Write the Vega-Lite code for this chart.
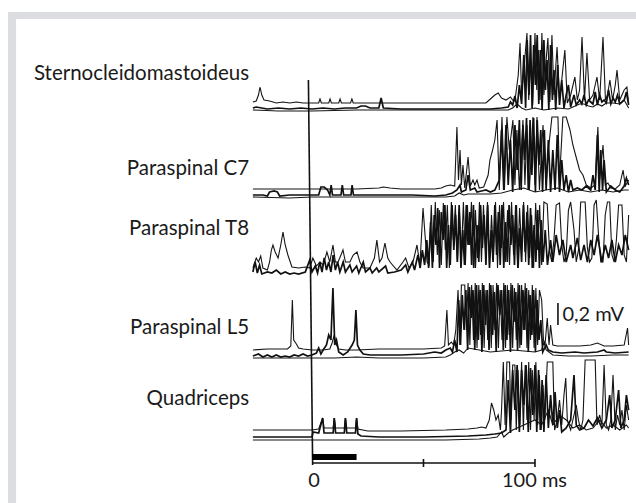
{
 "$schema": "https://vega.github.io/schema/vega-lite/v6.json",
 "width": 636, "height": 503,
 "autosize": {"type": "fit", "contains": "padding"},
 "padding": 0,
 "background": "#ffffff",
 "config": {"view": {"stroke": null}},
 "datasets": {
  "frame": [
   {"t": -136.3, "t2": -132.7, "d": 12, "d2": 503},
   {"t": -136.3, "t2": 145.3, "d": 12, "d2": 19}
  ],
  "rules": [
   {"t": -1.6, "t2": 0.3, "d": 80, "d2": 465},
   {"t": 0, "t2": 100, "d": 463, "d2": 463},
   {"t": 50, "t2": 50, "d": 459, "d2": 467},
   {"t": 100, "t2": 100, "d": 459, "d2": 467},
   {"t": 110.3, "t2": 110.3, "d": 303, "d2": 325}
  ],
  "bar": [{"t": 0, "t2": 20, "d": 454, "d2": 460}],
  "labels": [
   {"g": "R", "s": "Sternocleidomastoideus", "t": -28.2, "d": 80},
   {"g": "R", "s": "Paraspinal C7", "t": -28.2, "d": 175},
   {"g": "R", "s": "Paraspinal T8", "t": -28.2, "d": 235},
   {"g": "R", "s": "Paraspinal L5", "t": -28.2, "d": 334},
   {"g": "R", "s": "Quadriceps", "t": -28.2, "d": 405},
   {"g": "C", "s": "0", "t": 0.9, "d": 487},
   {"g": "L", "s": "100 ms", "t": 85.2, "d": 487},
   {"g": "L", "s": "0,2 mV", "t": 112.3, "d": 321}
  ],
  "traces": [
   {"k":"S1","t":-26.5,"d":102},{"k":"S1","t":-25,"d":101},{"k":"S1","t":-24,"d":95},{"k":"S1","t":-23.3,"d":87},{"k":"S1","t":-22.5,"d":95},{"k":"S1","t":-21.5,"d":100},{"k":"S1","t":-19,"d":101},{"k":"S1","t":-16,"d":103},{"k":"S1","t":-13,"d":102},{"k":"S1","t":-10,"d":103},{"k":"S1","t":-7,"d":102},{"k":"S1","t":-4,"d":103},{"k":"S1","t":0,"d":103},{"k":"S1","t":3,"d":103},{"k":"S1","t":3.6,"d":99},{"k":"S1","t":4.2,"d":103},{"k":"S1","t":7.5,"d":103},{"k":"S1","t":8.1,"d":99},{"k":"S1","t":8.7,"d":103},{"k":"S1","t":12,"d":103},{"k":"S1","t":12.6,"d":99},{"k":"S1","t":13.2,"d":103},{"k":"S1","t":17.3,"d":103},{"k":"S1","t":17.9,"d":99},{"k":"S1","t":18.5,"d":103},{"k":"S1","t":30,"d":103},{"k":"S1","t":50,"d":103},{"k":"S1","t":70,"d":103},{"k":"S1","t":78,"d":103},{"k":"S1","t":80,"d":99},{"k":"S1","t":82,"d":95},{"k":"S1","t":83.5,"d":93},{"k":"S1","t":85,"d":98},{"k":"S1","t":87,"d":100},{"k":"S1","t":89,"d":97},{"k":"S1","t":90,"d":100},{"k":"S1","t":91,"d":101},{"k":"S1","t":92.5,"d":75},{"k":"S1","t":93.3,"d":43},{"k":"S1","t":94,"d":95},{"k":"S1","t":95,"d":70},{"k":"S1","t":96.4,"d":33},{"k":"S1","t":97.2,"d":100},{"k":"S1","t":98,"d":60},{"k":"S1","t":99,"d":105},{"k":"S1","t":100,"d":33},{"k":"S1","t":100.8,"d":90},{"k":"S1","t":101.5,"d":50},{"k":"S1","t":102.3,"d":100},{"k":"S1","t":103.1,"d":33},{"k":"S1","t":104,"d":95},{"k":"S1","t":105,"d":60},{"k":"S1","t":105.8,"d":38},{"k":"S1","t":106.7,"d":102},{"k":"S1","t":107.6,"d":35},{"k":"S1","t":108.5,"d":95},{"k":"S1","t":109.9,"d":47},{"k":"S1","t":111,"d":100},{"k":"S1","t":112,"d":80},{"k":"S1","t":113.4,"d":50},{"k":"S1","t":114.5,"d":103},{"k":"S1","t":116,"d":95},{"k":"S1","t":117.9,"d":77},{"k":"S1","t":119,"d":100},{"k":"S1","t":120,"d":90},{"k":"S1","t":121.1,"d":37},{"k":"S1","t":122.2,"d":100},{"k":"S1","t":123.3,"d":53},{"k":"S1","t":124.5,"d":100},{"k":"S1","t":126,"d":95},{"k":"S1","t":127.8,"d":77},{"k":"S1","t":129,"d":100},{"k":"S1","t":130.5,"d":37},{"k":"S1","t":131.6,"d":100},{"k":"S1","t":132.5,"d":95},{"k":"S1","t":133.6,"d":80},{"k":"S1","t":134.8,"d":100},{"k":"S1","t":136,"d":85},{"k":"S1","t":136.8,"d":70},{"k":"S1","t":138,"d":100},{"k":"S1","t":139,"d":95},{"k":"S1","t":140,"d":90},{"k":"S1","t":141.2,"d":87},{"k":"S1","t":142,"d":103},

   {"k":"S2","t":-26.5,"d":108},{"k":"S2","t":-25,"d":107},{"k":"S2","t":-20,"d":109},{"k":"S2","t":-15,"d":108},{"k":"S2","t":-10,"d":109},{"k":"S2","t":-5,"d":108},{"k":"S2","t":0,"d":109},{"k":"S2","t":5,"d":108},{"k":"S2","t":10,"d":109},{"k":"S2","t":15,"d":108},{"k":"S2","t":20,"d":108},{"k":"S2","t":22,"d":106},{"k":"S2","t":24,"d":106},{"k":"S2","t":26,"d":108},{"k":"S2","t":30,"d":108},{"k":"S2","t":31,"d":98},{"k":"S2","t":32,"d":108},{"k":"S2","t":40,"d":109},{"k":"S2","t":60,"d":109},{"k":"S2","t":80,"d":109},{"k":"S2","t":85,"d":108},{"k":"S2","t":88,"d":107},{"k":"S2","t":89,"d":102},{"k":"S2","t":90,"d":105},{"k":"S2","t":91,"d":96},{"k":"S2","t":92,"d":108},{"k":"S2","t":93,"d":85},{"k":"S2","t":94,"d":104},{"k":"S2","t":95,"d":55},{"k":"S2","t":95.8,"d":108},{"k":"S2","t":96.5,"d":40},{"k":"S2","t":97.3,"d":95},{"k":"S2","t":98,"d":35},{"k":"S2","t":98.7,"d":108},{"k":"S2","t":99.4,"d":45},{"k":"S2","t":100.2,"d":85},{"k":"S2","t":101,"d":35},{"k":"S2","t":101.7,"d":104},{"k":"S2","t":102.4,"d":50},{"k":"S2","t":103.2,"d":110},{"k":"S2","t":104,"d":40},{"k":"S2","t":104.7,"d":90},{"k":"S2","t":105.4,"d":60},{"k":"S2","t":106.2,"d":110},{"k":"S2","t":107,"d":45},{"k":"S2","t":107.8,"d":100},{"k":"S2","t":108.5,"d":70},{"k":"S2","t":109.3,"d":110},{"k":"S2","t":110.2,"d":65},{"k":"S2","t":111,"d":105},{"k":"S2","t":112,"d":80},{"k":"S2","t":113,"d":108},{"k":"S2","t":114,"d":95},{"k":"S2","t":115,"d":85},{"k":"S2","t":116,"d":107},{"k":"S2","t":117.5,"d":95},{"k":"S2","t":118.5,"d":105},{"k":"S2","t":120,"d":100},{"k":"S2","t":121,"d":104},{"k":"S2","t":122,"d":95},{"k":"S2","t":123,"d":105},{"k":"S2","t":124,"d":100},{"k":"S2","t":126,"d":104},{"k":"S2","t":127,"d":92},{"k":"S2","t":128,"d":105},{"k":"S2","t":129,"d":95},{"k":"S2","t":130,"d":102},{"k":"S2","t":131,"d":100},{"k":"S2","t":132,"d":103},{"k":"S2","t":133,"d":90},{"k":"S2","t":134,"d":104},{"k":"S2","t":135,"d":98},{"k":"S2","t":136,"d":102},{"k":"S2","t":137,"d":95},{"k":"S2","t":138,"d":104},{"k":"S2","t":140,"d":100},{"k":"S2","t":141,"d":92},{"k":"S2","t":142,"d":105},

   {"k":"S3","t":-26.5,"d":110},{"k":"S3","t":-15,"d":111},{"k":"S3","t":0,"d":111},{"k":"S3","t":20,"d":110},{"k":"S3","t":40,"d":110},{"k":"S3","t":60,"d":110},{"k":"S3","t":80,"d":110},{"k":"S3","t":88,"d":110},{"k":"S3","t":90,"d":108},{"k":"S3","t":92,"d":104},{"k":"S3","t":94,"d":108},{"k":"S3","t":96,"d":110},{"k":"S3","t":100,"d":108},{"k":"S3","t":104,"d":110},{"k":"S3","t":110,"d":108},{"k":"S3","t":115,"d":109},{"k":"S3","t":118,"d":106},{"k":"S3","t":120,"d":104},{"k":"S3","t":122,"d":104},{"k":"S3","t":124,"d":106},{"k":"S3","t":126,"d":107},{"k":"S3","t":128,"d":104},{"k":"S3","t":130,"d":106},{"k":"S3","t":132,"d":103},{"k":"S3","t":135,"d":103},{"k":"S3","t":138,"d":104},{"k":"S3","t":140,"d":100},{"k":"S3","t":142,"d":108},

   {"k":"C1","t":-26.5,"d":189},{"k":"C1","t":-20,"d":189},{"k":"C1","t":-10,"d":189},{"k":"C1","t":0,"d":189},{"k":"C1","t":10,"d":189},{"k":"C1","t":20,"d":189},{"k":"C1","t":30,"d":188},{"k":"C1","t":32,"d":187},{"k":"C1","t":35,"d":188},{"k":"C1","t":40,"d":189},{"k":"C1","t":50,"d":189},{"k":"C1","t":55,"d":189},{"k":"C1","t":58,"d":188},{"k":"C1","t":60,"d":186},{"k":"C1","t":62,"d":185},{"k":"C1","t":64,"d":186},{"k":"C1","t":65,"d":127},{"k":"C1","t":65.7,"d":180},{"k":"C1","t":66.4,"d":150},{"k":"C1","t":67,"d":185},{"k":"C1","t":67.7,"d":165},{"k":"C1","t":68.5,"d":188},{"k":"C1","t":70,"d":157},{"k":"C1","t":71,"d":186},{"k":"C1","t":72.2,"d":180},{"k":"C1","t":73,"d":185},{"k":"C1","t":74,"d":180},{"k":"C1","t":75,"d":188},{"k":"C1","t":77,"d":187},{"k":"C1","t":79,"d":175},{"k":"C1","t":79.8,"d":160},{"k":"C1","t":81,"d":150},{"k":"C1","t":82,"d":140},{"k":"C1","t":83,"d":120},{"k":"C1","t":84,"d":190},{"k":"C1","t":85.2,"d":117},{"k":"C1","t":86.3,"d":190},{"k":"C1","t":87.4,"d":117},{"k":"C1","t":88.5,"d":150},{"k":"C1","t":90.1,"d":120},{"k":"C1","t":91,"d":185},{"k":"C1","t":91.9,"d":130},{"k":"C1","t":93,"d":190},{"k":"C1","t":94.6,"d":120},{"k":"C1","t":95.5,"d":185},{"k":"C1","t":96.4,"d":125},{"k":"C1","t":97.5,"d":190},{"k":"C1","t":99.1,"d":117},{"k":"C1","t":100,"d":185},{"k":"C1","t":100.9,"d":117},{"k":"C1","t":102,"d":190},{"k":"C1","t":103.6,"d":125},{"k":"C1","t":105,"d":185},{"k":"C1","t":106,"d":150},{"k":"C1","t":107.6,"d":117},{"k":"C1","t":110.3,"d":117},{"k":"C1","t":111,"d":180},{"k":"C1","t":112.5,"d":117},{"k":"C1","t":114,"d":117},{"k":"C1","t":115.7,"d":130},{"k":"C1","t":117,"d":145},{"k":"C1","t":118.8,"d":160},{"k":"C1","t":120,"d":170},{"k":"C1","t":121.5,"d":175},{"k":"C1","t":123,"d":185},{"k":"C1","t":125,"d":188},{"k":"C1","t":127,"d":185},{"k":"C1","t":128.2,"d":127},{"k":"C1","t":129,"d":180},{"k":"C1","t":130.5,"d":145},{"k":"C1","t":131.5,"d":185},{"k":"C1","t":132.7,"d":183},{"k":"C1","t":134,"d":188},{"k":"C1","t":136,"d":189},{"k":"C1","t":138,"d":185},{"k":"C1","t":139.5,"d":170},{"k":"C1","t":140.5,"d":186},{"k":"C1","t":142,"d":180},

   {"k":"C2","t":-26.5,"d":195},{"k":"C2","t":-22,"d":195},{"k":"C2","t":-20,"d":196},{"k":"C2","t":-19,"d":192},{"k":"C2","t":-17,"d":191},{"k":"C2","t":-15.5,"d":192},{"k":"C2","t":-14.5,"d":196},{"k":"C2","t":-10,"d":195},{"k":"C2","t":0,"d":195},{"k":"C2","t":3,"d":195},{"k":"C2","t":4,"d":187},{"k":"C2","t":5.5,"d":187},{"k":"C2","t":7,"d":190},{"k":"C2","t":8,"d":195},{"k":"C2","t":8.6,"d":185},{"k":"C2","t":9.2,"d":195},{"k":"C2","t":13,"d":195},{"k":"C2","t":13.6,"d":185},{"k":"C2","t":14.2,"d":195},{"k":"C2","t":17.5,"d":195},{"k":"C2","t":18,"d":185},{"k":"C2","t":18.6,"d":195},{"k":"C2","t":25,"d":195},{"k":"C2","t":35,"d":195},{"k":"C2","t":45,"d":195},{"k":"C2","t":55,"d":196},{"k":"C2","t":60,"d":195},{"k":"C2","t":63,"d":193},{"k":"C2","t":65,"d":190},{"k":"C2","t":66.4,"d":185},{"k":"C2","t":67,"d":192},{"k":"C2","t":69,"d":190},{"k":"C2","t":70,"d":175},{"k":"C2","t":71,"d":190},{"k":"C2","t":73,"d":188},{"k":"C2","t":74,"d":192},{"k":"C2","t":76,"d":191},{"k":"C2","t":78,"d":190},{"k":"C2","t":80,"d":192},{"k":"C2","t":82,"d":190},{"k":"C2","t":84,"d":180},{"k":"C2","t":85,"d":130},{"k":"C2","t":86,"d":190},{"k":"C2","t":87,"d":125},{"k":"C2","t":88,"d":185},{"k":"C2","t":89,"d":140},{"k":"C2","t":90,"d":192},{"k":"C2","t":91,"d":125},{"k":"C2","t":92,"d":170},{"k":"C2","t":93,"d":120},{"k":"C2","t":93.8,"d":190},{"k":"C2","t":94.6,"d":125},{"k":"C2","t":95.4,"d":160},{"k":"C2","t":96.2,"d":118},{"k":"C2","t":97,"d":190},{"k":"C2","t":97.8,"d":120},{"k":"C2","t":98.6,"d":175},{"k":"C2","t":99.4,"d":118},{"k":"C2","t":100.2,"d":192},{"k":"C2","t":101,"d":120},{"k":"C2","t":101.8,"d":165},{"k":"C2","t":102.6,"d":130},{"k":"C2","t":103.4,"d":192},{"k":"C2","t":104.2,"d":130},{"k":"C2","t":105,"d":190},{"k":"C2","t":106,"d":140},{"k":"C2","t":107,"d":192},{"k":"C2","t":108,"d":150},{"k":"C2","t":109,"d":190},{"k":"C2","t":110,"d":135},{"k":"C2","t":111,"d":192},{"k":"C2","t":112,"d":160},{"k":"C2","t":113,"d":190},{"k":"C2","t":114,"d":175},{"k":"C2","t":115,"d":192},{"k":"C2","t":116,"d":180},{"k":"C2","t":117,"d":190},{"k":"C2","t":119,"d":188},{"k":"C2","t":121,"d":190},{"k":"C2","t":123,"d":186},{"k":"C2","t":125,"d":190},{"k":"C2","t":126,"d":175},{"k":"C2","t":127,"d":190},{"k":"C2","t":128,"d":135},{"k":"C2","t":128.8,"d":192},{"k":"C2","t":129.5,"d":150},{"k":"C2","t":130.3,"d":190},{"k":"C2","t":131,"d":160},{"k":"C2","t":132,"d":192},{"k":"C2","t":134,"d":186},{"k":"C2","t":136,"d":190},{"k":"C2","t":138,"d":192},{"k":"C2","t":140,"d":186},{"k":"C2","t":141,"d":178},{"k":"C2","t":142,"d":185},

   {"k":"C3","t":-26.5,"d":197},{"k":"C3","t":-10,"d":198},{"k":"C3","t":0,"d":197},{"k":"C3","t":20,"d":197},{"k":"C3","t":40,"d":197},{"k":"C3","t":60,"d":197},{"k":"C3","t":64,"d":196},{"k":"C3","t":66,"d":193},{"k":"C3","t":68,"d":195},{"k":"C3","t":70,"d":194},{"k":"C3","t":75,"d":194},{"k":"C3","t":80,"d":194},{"k":"C3","t":85,"d":193},{"k":"C3","t":90,"d":190},{"k":"C3","t":95,"d":188},{"k":"C3","t":100,"d":192},{"k":"C3","t":105,"d":190},{"k":"C3","t":110,"d":188},{"k":"C3","t":115,"d":192},{"k":"C3","t":120,"d":190},{"k":"C3","t":125,"d":192},{"k":"C3","t":130,"d":190},{"k":"C3","t":135,"d":192},{"k":"C3","t":140,"d":190},{"k":"C3","t":142,"d":190},

   {"k":"T1","t":-26.5,"d":268},{"k":"T1","t":-25,"d":258},{"k":"T1","t":-24,"d":262},{"k":"T1","t":-23,"d":256},{"k":"T1","t":-22,"d":268},{"k":"T1","t":-20,"d":270},{"k":"T1","t":-19,"d":262},{"k":"T1","t":-18.2,"d":250},{"k":"T1","t":-17.5,"d":245},{"k":"T1","t":-16.5,"d":252},{"k":"T1","t":-15.2,"d":258},{"k":"T1","t":-14,"d":245},{"k":"T1","t":-13,"d":232},{"k":"T1","t":-12,"d":245},{"k":"T1","t":-10.8,"d":255},{"k":"T1","t":-9,"d":267},{"k":"T1","t":-6,"d":268},{"k":"T1","t":-3,"d":267},{"k":"T1","t":-1,"d":268},{"k":"T1","t":0.4,"d":258},{"k":"T1","t":2,"d":266},{"k":"T1","t":3.6,"d":262},{"k":"T1","t":5,"d":265},{"k":"T1","t":6.7,"d":252},{"k":"T1","t":8,"d":262},{"k":"T1","t":9.4,"d":245},{"k":"T1","t":10.5,"d":262},{"k":"T1","t":11.7,"d":262},{"k":"T1","t":13,"d":255},{"k":"T1","t":13.9,"d":250},{"k":"T1","t":15,"d":262},{"k":"T1","t":17,"d":262},{"k":"T1","t":18.5,"d":255},{"k":"T1","t":20.2,"d":252},{"k":"T1","t":21.5,"d":262},{"k":"T1","t":22.9,"d":268},{"k":"T1","t":24.5,"d":268},{"k":"T1","t":26,"d":268},{"k":"T1","t":28,"d":258},{"k":"T1","t":29.1,"d":240},{"k":"T1","t":30.3,"d":262},{"k":"T1","t":31.4,"d":258},{"k":"T1","t":32.7,"d":243},{"k":"T1","t":34,"d":258},{"k":"T1","t":35,"d":262},{"k":"T1","t":38.1,"d":270},{"k":"T1","t":40.8,"d":262},{"k":"T1","t":42,"d":258},{"k":"T1","t":43.5,"d":268},{"k":"T1","t":45.3,"d":262},{"k":"T1","t":47.1,"d":245},{"k":"T1","t":48.4,"d":265},{"k":"T1","t":49.8,"d":208},{"k":"T1","t":51.6,"d":262},{"k":"T1","t":52.5,"d":265},{"k":"T1","t":53.5,"d":205},{"k":"T1","t":54.4,"d":262},{"k":"T1","t":55.3,"d":202},{"k":"T1","t":56.2,"d":255},{"k":"T1","t":57.1,"d":210},{"k":"T1","t":58,"d":265},{"k":"T1","t":58.9,"d":203},{"k":"T1","t":59.8,"d":250},{"k":"T1","t":60.7,"d":205},{"k":"T1","t":61.6,"d":268},{"k":"T1","t":62.5,"d":202},{"k":"T1","t":63.4,"d":240},{"k":"T1","t":64.3,"d":205},{"k":"T1","t":65.2,"d":262},{"k":"T1","t":66.1,"d":210},{"k":"T1","t":67,"d":255},{"k":"T1","t":67.9,"d":202},{"k":"T1","t":68.8,"d":265},{"k":"T1","t":69.7,"d":205},{"k":"T1","t":70.6,"d":245},{"k":"T1","t":71.5,"d":202},{"k":"T1","t":72.4,"d":268},{"k":"T1","t":73.3,"d":210},{"k":"T1","t":74.2,"d":258},{"k":"T1","t":75.1,"d":202},{"k":"T1","t":76,"d":262},{"k":"T1","t":76.9,"d":205},{"k":"T1","t":77.8,"d":250},{"k":"T1","t":78.7,"d":202},{"k":"T1","t":79.6,"d":265},{"k":"T1","t":80.5,"d":215},{"k":"T1","t":81.4,"d":255},{"k":"T1","t":82.3,"d":202},{"k":"T1","t":83.2,"d":268},{"k":"T1","t":84.1,"d":205},{"k":"T1","t":85,"d":248},{"k":"T1","t":85.9,"d":202},{"k":"T1","t":86.8,"d":262},{"k":"T1","t":87.7,"d":210},{"k":"T1","t":88.6,"d":265},{"k":"T1","t":89.5,"d":202},{"k":"T1","t":90.4,"d":255},{"k":"T1","t":91.3,"d":205},{"k":"T1","t":92.2,"d":268},{"k":"T1","t":93.1,"d":208},{"k":"T1","t":94,"d":250},{"k":"T1","t":94.9,"d":202},{"k":"T1","t":95.8,"d":262},{"k":"T1","t":96.7,"d":205},{"k":"T1","t":97.6,"d":258},{"k":"T1","t":98.5,"d":215},{"k":"T1","t":99.4,"d":268},{"k":"T1","t":100.3,"d":203},{"k":"T1","t":101.2,"d":250},{"k":"T1","t":102.1,"d":205},{"k":"T1","t":103,"d":265},{"k":"T1","t":104,"d":202},{"k":"T1","t":105.5,"d":204},{"k":"T1","t":106.5,"d":250},{"k":"T1","t":107.5,"d":262},{"k":"T1","t":108.5,"d":240},{"k":"T1","t":109.5,"d":205},{"k":"T1","t":111,"d":203},{"k":"T1","t":112,"d":245},{"k":"T1","t":113,"d":262},{"k":"T1","t":114,"d":255},{"k":"T1","t":115,"d":210},{"k":"T1","t":116,"d":202},{"k":"T1","t":117.5,"d":230},{"k":"T1","t":118.5,"d":262},{"k":"T1","t":119.5,"d":250},{"k":"T1","t":120.5,"d":202},{"k":"T1","t":122.5,"d":202},{"k":"T1","t":123.5,"d":248},{"k":"T1","t":124.5,"d":262},{"k":"T1","t":125.5,"d":258},{"k":"T1","t":126.5,"d":205},{"k":"T1","t":127.5,"d":200},{"k":"T1","t":128.5,"d":235},{"k":"T1","t":129.5,"d":262},{"k":"T1","t":130.5,"d":262},{"k":"T1","t":131.5,"d":215},{"k":"T1","t":132.5,"d":202},{"k":"T1","t":133.5,"d":202},{"k":"T1","t":134.5,"d":255},{"k":"T1","t":135.5,"d":262},{"k":"T1","t":136.5,"d":240},{"k":"T1","t":137.5,"d":205},{"k":"T1","t":139,"d":205},{"k":"T1","t":140,"d":255},{"k":"T1","t":141,"d":262},{"k":"T1","t":142,"d":215},

   {"k":"T2","t":-26.5,"d":272},{"k":"T2","t":-25.5,"d":262},{"k":"T2","t":-24.5,"d":273},{"k":"T2","t":-23.5,"d":265},{"k":"T2","t":-22.5,"d":274},{"k":"T2","t":-20,"d":272},{"k":"T2","t":-18,"d":273},{"k":"T2","t":-16,"d":270},{"k":"T2","t":-14,"d":274},{"k":"T2","t":-12,"d":272},{"k":"T2","t":-10,"d":274},{"k":"T2","t":-8,"d":273},{"k":"T2","t":-6,"d":274},{"k":"T2","t":-3,"d":272},{"k":"T2","t":-1,"d":260},{"k":"T2","t":0,"d":272},{"k":"T2","t":1.5,"d":266},{"k":"T2","t":2.5,"d":273},{"k":"T2","t":3.5,"d":262},{"k":"T2","t":4.5,"d":272},{"k":"T2","t":5.5,"d":258},{"k":"T2","t":6.5,"d":270},{"k":"T2","t":7.5,"d":262},{"k":"T2","t":8.5,"d":272},{"k":"T2","t":9.5,"d":255},{"k":"T2","t":10.5,"d":270},{"k":"T2","t":11.5,"d":262},{"k":"T2","t":12.5,"d":272},{"k":"T2","t":14,"d":262},{"k":"T2","t":15,"d":272},{"k":"T2","t":17,"d":265},{"k":"T2","t":18,"d":272},{"k":"T2","t":20,"d":266},{"k":"T2","t":21,"d":273},{"k":"T2","t":23,"d":262},{"k":"T2","t":24,"d":272},{"k":"T2","t":26,"d":268},{"k":"T2","t":27,"d":273},{"k":"T2","t":29,"d":268},{"k":"T2","t":30,"d":272},{"k":"T2","t":33,"d":266},{"k":"T2","t":34,"d":273},{"k":"T2","t":37,"d":272},{"k":"T2","t":40,"d":270},{"k":"T2","t":42,"d":265},{"k":"T2","t":43,"d":272},{"k":"T2","t":45,"d":262},{"k":"T2","t":46,"d":270},{"k":"T2","t":47.5,"d":255},{"k":"T2","t":48.5,"d":268},{"k":"T2","t":49.5,"d":250},{"k":"T2","t":50.5,"d":265},{"k":"T2","t":51.5,"d":240},{"k":"T2","t":52.3,"d":268},{"k":"T2","t":53.2,"d":222},{"k":"T2","t":54,"d":268},{"k":"T2","t":54.8,"d":215},{"k":"T2","t":55.6,"d":245},{"k":"T2","t":56.4,"d":208},{"k":"T2","t":57.2,"d":268},{"k":"T2","t":58,"d":212},{"k":"T2","t":58.8,"d":240},{"k":"T2","t":59.6,"d":205},{"k":"T2","t":60.4,"d":268},{"k":"T2","t":61.2,"d":225},{"k":"T2","t":62,"d":265},{"k":"T2","t":62.8,"d":205},{"k":"T2","t":63.6,"d":250},{"k":"T2","t":64.4,"d":215},{"k":"T2","t":65.2,"d":262},{"k":"T2","t":66,"d":205},{"k":"T2","t":66.8,"d":268},{"k":"T2","t":67.6,"d":230},{"k":"T2","t":68.4,"d":265},{"k":"T2","t":69.2,"d":205},{"k":"T2","t":70,"d":245},{"k":"T2","t":70.8,"d":212},{"k":"T2","t":71.6,"d":265},{"k":"T2","t":72.4,"d":205},{"k":"T2","t":73.2,"d":268},{"k":"T2","t":74,"d":225},{"k":"T2","t":74.8,"d":262},{"k":"T2","t":75.6,"d":205},{"k":"T2","t":76.4,"d":248},{"k":"T2","t":77.2,"d":215},{"k":"T2","t":78,"d":265},{"k":"T2","t":78.8,"d":205},{"k":"T2","t":79.6,"d":268},{"k":"T2","t":80.4,"d":230},{"k":"T2","t":81.2,"d":262},{"k":"T2","t":82,"d":205},{"k":"T2","t":82.8,"d":255},{"k":"T2","t":83.6,"d":212},{"k":"T2","t":84.4,"d":265},{"k":"T2","t":85.2,"d":205},{"k":"T2","t":86,"d":268},{"k":"T2","t":86.8,"d":222},{"k":"T2","t":87.6,"d":262},{"k":"T2","t":88.4,"d":205},{"k":"T2","t":89.2,"d":245},{"k":"T2","t":90,"d":215},{"k":"T2","t":90.8,"d":265},{"k":"T2","t":91.6,"d":205},{"k":"T2","t":92.4,"d":268},{"k":"T2","t":93.2,"d":228},{"k":"T2","t":94,"d":262},{"k":"T2","t":94.8,"d":205},{"k":"T2","t":95.6,"d":252},{"k":"T2","t":96.4,"d":212},{"k":"T2","t":97.2,"d":265},{"k":"T2","t":98,"d":208},{"k":"T2","t":98.8,"d":268},{"k":"T2","t":99.6,"d":225},{"k":"T2","t":100.4,"d":262},{"k":"T2","t":101.2,"d":210},{"k":"T2","t":102,"d":268},{"k":"T2","t":102.8,"d":220},{"k":"T2","t":103.6,"d":262},{"k":"T2","t":104.6,"d":230},{"k":"T2","t":105.6,"d":265},{"k":"T2","t":107,"d":240},{"k":"T2","t":108,"d":262},{"k":"T2","t":109.5,"d":235},{"k":"T2","t":111,"d":255},{"k":"T2","t":112.5,"d":240},{"k":"T2","t":114,"d":262},{"k":"T2","t":116,"d":245},{"k":"T2","t":117,"d":258},{"k":"T2","t":119,"d":238},{"k":"T2","t":120.5,"d":260},{"k":"T2","t":122,"d":245},{"k":"T2","t":123.5,"d":262},{"k":"T2","t":125,"d":240},{"k":"T2","t":126.5,"d":255},{"k":"T2","t":128,"d":235},{"k":"T2","t":130,"d":262},{"k":"T2","t":131.5,"d":245},{"k":"T2","t":133,"d":258},{"k":"T2","t":134.5,"d":240},{"k":"T2","t":136,"d":262},{"k":"T2","t":137.5,"d":245},{"k":"T2","t":139,"d":255},{"k":"T2","t":140.5,"d":235},{"k":"T2","t":142,"d":250},

   {"k":"L1","t":-26.5,"d":350},{"k":"L1","t":-20,"d":349},{"k":"L1","t":-15,"d":349},{"k":"L1","t":-11,"d":349},{"k":"L1","t":-9.5,"d":346},{"k":"L1","t":-8.8,"d":300},{"k":"L1","t":-8.2,"d":340},{"k":"L1","t":-7,"d":344},{"k":"L1","t":-6,"d":348},{"k":"L1","t":-4,"d":349},{"k":"L1","t":0,"d":350},{"k":"L1","t":5,"d":350},{"k":"L1","t":8,"d":349},{"k":"L1","t":9,"d":343},{"k":"L1","t":10,"d":335},{"k":"L1","t":11,"d":345},{"k":"L1","t":12,"d":349},{"k":"L1","t":15,"d":350},{"k":"L1","t":20,"d":350},{"k":"L1","t":30,"d":349},{"k":"L1","t":40,"d":349},{"k":"L1","t":50,"d":349},{"k":"L1","t":58,"d":348},{"k":"L1","t":59.5,"d":346},{"k":"L1","t":60.5,"d":310},{"k":"L1","t":61.2,"d":345},{"k":"L1","t":62.5,"d":342},{"k":"L1","t":63.5,"d":345},{"k":"L1","t":64.5,"d":330},{"k":"L1","t":65.5,"d":290},{"k":"L1","t":66.3,"d":345},{"k":"L1","t":67,"d":285},{"k":"L1","t":68.5,"d":285},{"k":"L1","t":69.2,"d":330},{"k":"L1","t":70,"d":283},{"k":"L1","t":70.8,"d":345},{"k":"L1","t":71.6,"d":285},{"k":"L1","t":72.4,"d":340},{"k":"L1","t":73.2,"d":283},{"k":"L1","t":74,"d":348},{"k":"L1","t":74.8,"d":285},{"k":"L1","t":75.6,"d":335},{"k":"L1","t":76.4,"d":283},{"k":"L1","t":77.2,"d":348},{"k":"L1","t":78,"d":290},{"k":"L1","t":78.8,"d":340},{"k":"L1","t":79.6,"d":283},{"k":"L1","t":80.4,"d":348},{"k":"L1","t":81.2,"d":285},{"k":"L1","t":82,"d":330},{"k":"L1","t":82.8,"d":283},{"k":"L1","t":83.6,"d":348},{"k":"L1","t":84.4,"d":290},{"k":"L1","t":85.2,"d":340},{"k":"L1","t":86,"d":283},{"k":"L1","t":86.8,"d":348},{"k":"L1","t":87.6,"d":285},{"k":"L1","t":88.4,"d":335},{"k":"L1","t":89.2,"d":283},{"k":"L1","t":90,"d":348},{"k":"L1","t":90.8,"d":288},{"k":"L1","t":91.6,"d":340},{"k":"L1","t":92.4,"d":283},{"k":"L1","t":93.2,"d":348},{"k":"L1","t":94,"d":285},{"k":"L1","t":94.8,"d":330},{"k":"L1","t":95.6,"d":283},{"k":"L1","t":96.4,"d":348},{"k":"L1","t":97.2,"d":290},{"k":"L1","t":98,"d":340},{"k":"L1","t":98.8,"d":285},{"k":"L1","t":99.6,"d":348},{"k":"L1","t":100.4,"d":288},{"k":"L1","t":101.2,"d":345},{"k":"L1","t":102,"d":290},{"k":"L1","t":103,"d":300},{"k":"L1","t":103.8,"d":340},{"k":"L1","t":104.5,"d":345},{"k":"L1","t":105.5,"d":318},{"k":"L1","t":106.3,"d":345},{"k":"L1","t":107,"d":325},{"k":"L1","t":108,"d":345},{"k":"L1","t":110,"d":346},{"k":"L1","t":115,"d":346},{"k":"L1","t":120,"d":346},{"k":"L1","t":125,"d":345},{"k":"L1","t":128,"d":343},{"k":"L1","t":131,"d":346},{"k":"L1","t":135,"d":346},{"k":"L1","t":140,"d":345},{"k":"L1","t":141.5,"d":328},{"k":"L1","t":142,"d":345},

   {"k":"L2","t":-26.5,"d":356},{"k":"L2","t":-24,"d":354},{"k":"L2","t":-22,"d":357},{"k":"L2","t":-20,"d":355},{"k":"L2","t":-18,"d":357},{"k":"L2","t":-16,"d":355},{"k":"L2","t":-14,"d":357},{"k":"L2","t":-12,"d":356},{"k":"L2","t":-10,"d":357},{"k":"L2","t":-8,"d":355},{"k":"L2","t":-6,"d":356},{"k":"L2","t":-4,"d":354},{"k":"L2","t":-2,"d":356},{"k":"L2","t":0,"d":355},{"k":"L2","t":2,"d":353},{"k":"L2","t":3,"d":348},{"k":"L2","t":4,"d":354},{"k":"L2","t":5,"d":350},{"k":"L2","t":6.5,"d":345},{"k":"L2","t":7.5,"d":335},{"k":"L2","t":8.5,"d":340},{"k":"L2","t":9.4,"d":288},{"k":"L2","t":10.2,"d":345},{"k":"L2","t":11,"d":340},{"k":"L2","t":12,"d":352},{"k":"L2","t":14,"d":355},{"k":"L2","t":16,"d":352},{"k":"L2","t":18,"d":345},{"k":"L2","t":19,"d":340},{"k":"L2","t":19.7,"d":310},{"k":"L2","t":20.4,"d":345},{"k":"L2","t":21.5,"d":350},{"k":"L2","t":23,"d":354},{"k":"L2","t":26,"d":355},{"k":"L2","t":30,"d":355},{"k":"L2","t":40,"d":355},{"k":"L2","t":50,"d":354},{"k":"L2","t":55,"d":352},{"k":"L2","t":58,"d":353},{"k":"L2","t":60,"d":350},{"k":"L2","t":62,"d":348},{"k":"L2","t":63,"d":352},{"k":"L2","t":64,"d":340},{"k":"L2","t":65,"d":352},{"k":"L2","t":65.8,"d":300},{"k":"L2","t":66.6,"d":345},{"k":"L2","t":67.4,"d":295},{"k":"L2","t":68.2,"d":330},{"k":"L2","t":69,"d":290},{"k":"L2","t":69.8,"d":350},{"k":"L2","t":70.6,"d":287},{"k":"L2","t":71.4,"d":318},{"k":"L2","t":72.2,"d":290},{"k":"L2","t":73,"d":350},{"k":"L2","t":73.8,"d":285},{"k":"L2","t":74.6,"d":340},{"k":"L2","t":75.4,"d":290},{"k":"L2","t":76.2,"d":352},{"k":"L2","t":77,"d":285},{"k":"L2","t":77.8,"d":325},{"k":"L2","t":78.6,"d":290},{"k":"L2","t":79.4,"d":350},{"k":"L2","t":80.2,"d":285},{"k":"L2","t":81,"d":335},{"k":"L2","t":81.8,"d":292},{"k":"L2","t":82.6,"d":352},{"k":"L2","t":83.4,"d":285},{"k":"L2","t":84.2,"d":315},{"k":"L2","t":85,"d":290},{"k":"L2","t":85.8,"d":350},{"k":"L2","t":86.6,"d":285},{"k":"L2","t":87.4,"d":340},{"k":"L2","t":88.2,"d":290},{"k":"L2","t":89,"d":352},{"k":"L2","t":89.8,"d":285},{"k":"L2","t":90.6,"d":322},{"k":"L2","t":91.4,"d":292},{"k":"L2","t":92.2,"d":350},{"k":"L2","t":93,"d":285},{"k":"L2","t":93.8,"d":345},{"k":"L2","t":94.6,"d":290},{"k":"L2","t":95.4,"d":330},{"k":"L2","t":96.2,"d":288},{"k":"L2","t":97,"d":352},{"k":"L2","t":97.8,"d":295},{"k":"L2","t":98.6,"d":335},{"k":"L2","t":99.4,"d":290},{"k":"L2","t":100.2,"d":352},{"k":"L2","t":101,"d":300},{"k":"L2","t":101.8,"d":340},{"k":"L2","t":102.6,"d":320},{"k":"L2","t":103.5,"d":352},{"k":"L2","t":105,"d":345},{"k":"L2","t":106,"d":350},{"k":"L2","t":108,"d":352},{"k":"L2","t":112,"d":353},{"k":"L2","t":118,"d":352},{"k":"L2","t":122,"d":353},{"k":"L2","t":128,"d":352},{"k":"L2","t":131,"d":350},{"k":"L2","t":132,"d":352},{"k":"L2","t":136,"d":353},{"k":"L2","t":142,"d":352},

   {"k":"L3","t":-26.5,"d":358},{"k":"L3","t":-10,"d":358},{"k":"L3","t":0,"d":358},{"k":"L3","t":10,"d":358},{"k":"L3","t":20,"d":357},{"k":"L3","t":30,"d":358},{"k":"L3","t":50,"d":358},{"k":"L3","t":60,"d":357},{"k":"L3","t":62,"d":355},{"k":"L3","t":64,"d":352},{"k":"L3","t":66,"d":350},{"k":"L3","t":68,"d":353},{"k":"L3","t":70,"d":348},{"k":"L3","t":75,"d":350},{"k":"L3","t":80,"d":352},{"k":"L3","t":90,"d":350},{"k":"L3","t":100,"d":352},{"k":"L3","t":103,"d":350},{"k":"L3","t":104,"d":342},{"k":"L3","t":105,"d":350},{"k":"L3","t":108,"d":355},{"k":"L3","t":115,"d":356},{"k":"L3","t":125,"d":356},{"k":"L3","t":135,"d":355},{"k":"L3","t":142,"d":355},

   {"k":"Q1","t":-26.5,"d":430},{"k":"Q1","t":-15,"d":430},{"k":"Q1","t":0,"d":430},{"k":"Q1","t":3,"d":429},{"k":"Q1","t":4.8,"d":418},{"k":"Q1","t":5.4,"d":428},{"k":"Q1","t":9.5,"d":428},{"k":"Q1","t":10,"d":418},{"k":"Q1","t":10.6,"d":428},{"k":"Q1","t":14.5,"d":428},{"k":"Q1","t":15,"d":418},{"k":"Q1","t":15.6,"d":428},{"k":"Q1","t":19.5,"d":428},{"k":"Q1","t":20,"d":418},{"k":"Q1","t":20.6,"d":429},{"k":"Q1","t":25,"d":431},{"k":"Q1","t":40,"d":431},{"k":"Q1","t":60,"d":430},{"k":"Q1","t":70,"d":429},{"k":"Q1","t":74,"d":428},{"k":"Q1","t":76,"d":427},{"k":"Q1","t":78,"d":428},{"k":"Q1","t":79.5,"d":420},{"k":"Q1","t":80.5,"d":403},{"k":"Q1","t":81.5,"d":410},{"k":"Q1","t":82.5,"d":420},{"k":"Q1","t":83.5,"d":415},{"k":"Q1","t":84.5,"d":430},{"k":"Q1","t":85,"d":410},{"k":"Q1","t":85.8,"d":362},{"k":"Q1","t":86.6,"d":425},{"k":"Q1","t":87.4,"d":362},{"k":"Q1","t":88.6,"d":362},{"k":"Q1","t":89.2,"d":420},{"k":"Q1","t":90,"d":365},{"k":"Q1","t":91,"d":365},{"k":"Q1","t":91.6,"d":430},{"k":"Q1","t":92.4,"d":370},{"k":"Q1","t":93.2,"d":425},{"k":"Q1","t":94,"d":362},{"k":"Q1","t":94.8,"d":430},{"k":"Q1","t":95.6,"d":365},{"k":"Q1","t":96.4,"d":420},{"k":"Q1","t":97.2,"d":362},{"k":"Q1","t":98,"d":430},{"k":"Q1","t":98.8,"d":370},{"k":"Q1","t":99.6,"d":420},{"k":"Q1","t":100.4,"d":362},{"k":"Q1","t":101.2,"d":425},{"k":"Q1","t":102,"d":375},{"k":"Q1","t":102.8,"d":430},{"k":"Q1","t":103.6,"d":385},{"k":"Q1","t":104.4,"d":420},{"k":"Q1","t":105.5,"d":362},{"k":"Q1","t":108,"d":362},{"k":"Q1","t":108.8,"d":430},{"k":"Q1","t":110,"d":420},{"k":"Q1","t":111,"d":400},{"k":"Q1","t":112,"d":425},{"k":"Q1","t":113,"d":395},{"k":"Q1","t":113.8,"d":378},{"k":"Q1","t":114.5,"d":420},{"k":"Q1","t":116,"d":430},{"k":"Q1","t":117,"d":420},{"k":"Q1","t":118.5,"d":405},{"k":"Q1","t":119.5,"d":420},{"k":"Q1","t":120.5,"d":430},{"k":"Q1","t":121.5,"d":420},{"k":"Q1","t":122.5,"d":360},{"k":"Q1","t":124,"d":360},{"k":"Q1","t":127,"d":360},{"k":"Q1","t":127.8,"d":425},{"k":"Q1","t":129,"d":415},{"k":"Q1","t":130,"d":425},{"k":"Q1","t":131,"d":365},{"k":"Q1","t":132,"d":425},{"k":"Q1","t":133,"d":430},{"k":"Q1","t":134,"d":420},{"k":"Q1","t":135,"d":375},{"k":"Q1","t":136,"d":430},{"k":"Q1","t":137,"d":415},{"k":"Q1","t":138,"d":425},{"k":"Q1","t":139,"d":410},{"k":"Q1","t":140,"d":430},{"k":"Q1","t":141,"d":405},{"k":"Q1","t":142,"d":420},

   {"k":"Q2","t":-26.5,"d":437},{"k":"Q2","t":-15,"d":437},{"k":"Q2","t":0,"d":437},{"k":"Q2","t":0.5,"d":432},{"k":"Q2","t":3,"d":433},{"k":"Q2","t":4.8,"d":418},{"k":"Q2","t":5.4,"d":433},{"k":"Q2","t":9.5,"d":433},{"k":"Q2","t":10,"d":418},{"k":"Q2","t":10.6,"d":433},{"k":"Q2","t":14.5,"d":433},{"k":"Q2","t":15,"d":418},{"k":"Q2","t":15.6,"d":433},{"k":"Q2","t":19.5,"d":433},{"k":"Q2","t":20,"d":418},{"k":"Q2","t":20.6,"d":434},{"k":"Q2","t":22,"d":436},{"k":"Q2","t":30,"d":437},{"k":"Q2","t":50,"d":437},{"k":"Q2","t":70,"d":436},{"k":"Q2","t":78,"d":435},{"k":"Q2","t":82,"d":434},{"k":"Q2","t":85,"d":433},{"k":"Q2","t":87,"d":430},{"k":"Q2","t":88,"d":380},{"k":"Q2","t":89,"d":433},{"k":"Q2","t":90,"d":370},{"k":"Q2","t":91,"d":410},{"k":"Q2","t":92,"d":365},{"k":"Q2","t":93,"d":432},{"k":"Q2","t":94,"d":370},{"k":"Q2","t":95,"d":405},{"k":"Q2","t":96,"d":365},{"k":"Q2","t":97,"d":432},{"k":"Q2","t":98,"d":368},{"k":"Q2","t":99,"d":415},{"k":"Q2","t":100,"d":365},{"k":"Q2","t":100.8,"d":432},{"k":"Q2","t":101.6,"d":370},{"k":"Q2","t":102.4,"d":430},{"k":"Q2","t":103.2,"d":380},{"k":"Q2","t":104,"d":432},{"k":"Q2","t":105,"d":375},{"k":"Q2","t":106,"d":428},{"k":"Q2","t":107,"d":395},{"k":"Q2","t":108,"d":425},{"k":"Q2","t":109,"d":392},{"k":"Q2","t":110,"d":428},{"k":"Q2","t":111,"d":410},{"k":"Q2","t":112,"d":432},{"k":"Q2","t":114,"d":428},{"k":"Q2","t":116,"d":420},{"k":"Q2","t":117.5,"d":375},{"k":"Q2","t":118.5,"d":425},{"k":"Q2","t":120,"d":430},{"k":"Q2","t":122,"d":428},{"k":"Q2","t":124,"d":420},{"k":"Q2","t":126,"d":426},{"k":"Q2","t":128,"d":418},{"k":"Q2","t":130,"d":428},{"k":"Q2","t":132,"d":420},{"k":"Q2","t":133.5,"d":395},{"k":"Q2","t":134.5,"d":428},{"k":"Q2","t":136,"d":420},{"k":"Q2","t":137.5,"d":390},{"k":"Q2","t":138.5,"d":428},{"k":"Q2","t":140,"d":420},{"k":"Q2","t":141,"d":395},{"k":"Q2","t":142,"d":410},

   {"k":"Q3","t":-26.5,"d":440},{"k":"Q3","t":0,"d":440},{"k":"Q3","t":20,"d":440},{"k":"Q3","t":40,"d":440},{"k":"Q3","t":60,"d":440},{"k":"Q3","t":75,"d":439},{"k":"Q3","t":80,"d":438},{"k":"Q3","t":83,"d":437},{"k":"Q3","t":85,"d":432},{"k":"Q3","t":86,"d":437},{"k":"Q3","t":88,"d":433},{"k":"Q3","t":90,"d":430},{"k":"Q3","t":95,"d":425},{"k":"Q3","t":100,"d":420},{"k":"Q3","t":103,"d":425},{"k":"Q3","t":106,"d":410},{"k":"Q3","t":108,"d":425},{"k":"Q3","t":111,"d":415},{"k":"Q3","t":114,"d":420},{"k":"Q3","t":117,"d":428},{"k":"Q3","t":120,"d":425},{"k":"Q3","t":123,"d":430},{"k":"Q3","t":126,"d":428},{"k":"Q3","t":129,"d":420},{"k":"Q3","t":132,"d":428},{"k":"Q3","t":135,"d":425},{"k":"Q3","t":138,"d":430},{"k":"Q3","t":141,"d":425},{"k":"Q3","t":142,"d":428}
  ]
 },
 "encoding": {
  "x": {"field": "t", "type": "quantitative", "scale": {"domain": [-139.9, 145.3], "nice": false, "zero": false}, "axis": null},
  "y": {"field": "d", "type": "quantitative", "scale": {"domain": [0, 503], "reverse": true, "nice": false, "zero": false}, "axis": null}
 },
 "layer": [
  {"data": {"name": "frame"}, "mark": {"type": "rect", "color": "#dcdde0"}, "encoding": {"x2": {"field": "t2"}, "y2": {"field": "d2"}}},
  {"data": {"name": "traces"}, "transform": [{"filter": {"field": "k", "oneOf": ["S1", "S3", "C1", "C3", "T1", "L1", "L3", "Q1", "Q3"]}}], "mark": {"type": "line", "color": "#151515", "strokeWidth": 1.1}, "encoding": {"detail": {"field": "k"}}},
  {"data": {"name": "traces"}, "transform": [{"filter": {"field": "k", "oneOf": ["S2", "C2", "T2", "L2", "Q2"]}}], "mark": {"type": "line", "color": "#111111", "strokeWidth": 1.7}, "encoding": {"detail": {"field": "k"}}},
  {"data": {"name": "rules"}, "mark": {"type": "rule", "color": "#111111", "strokeWidth": 1.6}, "encoding": {"x2": {"field": "t2"}, "y2": {"field": "d2"}}},
  {"data": {"name": "bar"}, "mark": {"type": "rect", "color": "#000000"}, "encoding": {"x2": {"field": "t2"}, "y2": {"field": "d2"}}},
  {"data": {"name": "labels"}, "transform": [{"filter": {"field": "g", "equal": "L"}}], "mark": {"type": "text", "align": "left", "baseline": "alphabetic", "font": "Lato", "fontSize": 20, "color": "#1a1a1a"}, "encoding": {"text": {"field": "s"}}},
  {"data": {"name": "labels"}, "transform": [{"filter": {"field": "g", "equal": "R"}}], "mark": {"type": "text", "align": "right", "baseline": "alphabetic", "font": "Lato", "fontSize": 20.5, "color": "#1a1a1a"}, "encoding": {"text": {"field": "s"}}},
  {"data": {"name": "labels"}, "transform": [{"filter": {"field": "g", "equal": "C"}}], "mark": {"type": "text", "align": "center", "baseline": "alphabetic", "font": "Lato", "fontSize": 20, "color": "#1a1a1a"}, "encoding": {"text": {"field": "s"}}}
 ]
}
